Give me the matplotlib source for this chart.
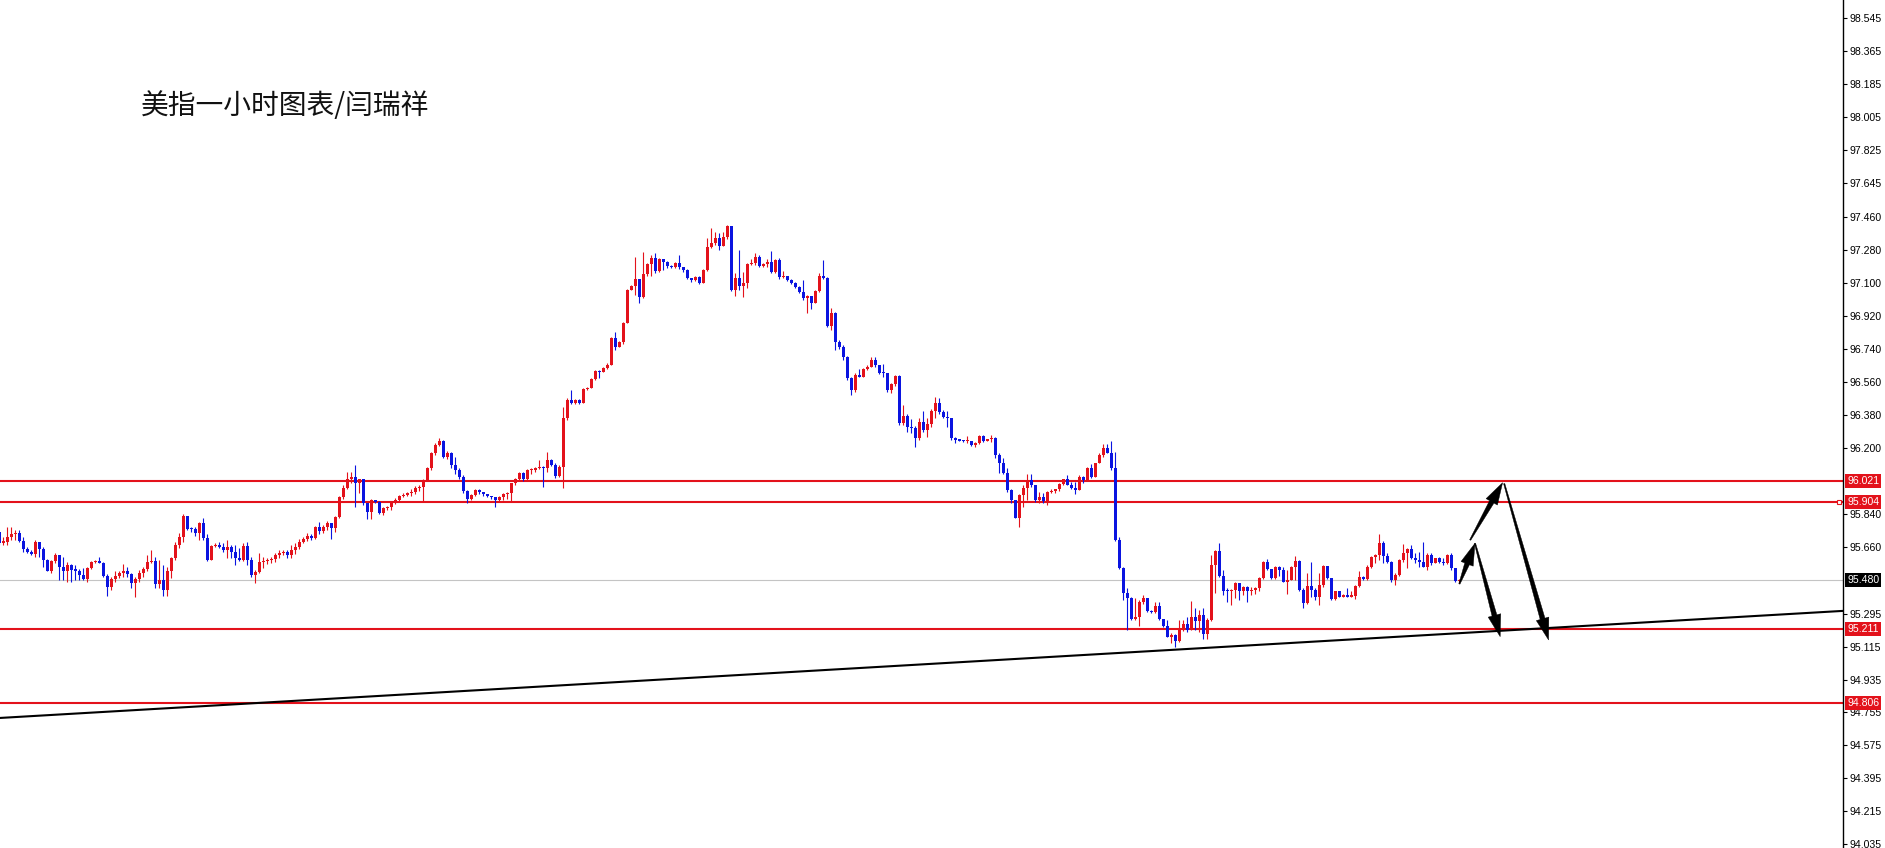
import numpy as np
import matplotlib
matplotlib.use("Agg")
import matplotlib.pyplot as plt
from matplotlib.patches import Polygon

plt.rcParams['font.family'] = ['Noto Sans CJK SC', 'DejaVu Sans']

title = "美指一小时图表/闫瑞祥"

# hourly candles (open = previous close)
first_open = 95.743
close = [
    95.683, 95.685, 95.716, 95.730, 95.734, 95.694, 95.650, 95.634, 95.621, 95.688,
    95.650, 95.588, 95.530, 95.583, 95.616, 95.552, 95.530, 95.561, 95.534, 95.530,
    95.506, 95.484, 95.543, 95.579, 95.583, 95.574, 95.503, 95.443, 95.484, 95.503,
    95.519, 95.530, 95.512, 95.461, 95.483, 95.515, 95.537, 95.575, 95.583, 95.457,
    95.479, 95.424, 95.528, 95.597, 95.667, 95.712, 95.828, 95.757, 95.756, 95.737,
    95.788, 95.706, 95.588, 95.665, 95.670, 95.661, 95.643, 95.657, 95.634, 95.601,
    95.588, 95.665, 95.588, 95.506, 95.524, 95.579, 95.584, 95.588, 95.591, 95.615,
    95.628, 95.633, 95.615, 95.642, 95.657, 95.688, 95.700, 95.720, 95.710, 95.766,
    95.745, 95.770, 95.790, 95.760, 95.824, 95.930, 95.979, 96.030, 96.043, 96.007,
    96.028, 95.897, 95.852, 95.915, 95.906, 95.846, 95.870, 95.875, 95.906, 95.915,
    95.937, 95.943, 95.952, 95.961, 95.979, 95.988, 96.025, 96.088, 96.170, 96.216,
    96.240, 96.152, 96.174, 96.106, 96.079, 96.043, 95.966, 95.919, 95.943, 95.970,
    95.961, 95.948, 95.937, 95.930, 95.915, 95.930, 95.948, 95.952, 96.006, 96.028,
    96.061, 96.028, 96.079, 96.080, 96.088, 96.097, 96.088, 96.134, 96.107, 96.047,
    96.098, 96.361, 96.462, 96.443, 96.462, 96.447, 96.520, 96.525, 96.574, 96.620,
    96.616, 96.635, 96.653, 96.802, 96.753, 96.780, 96.884, 97.062, 97.084, 97.122,
    97.022, 97.148, 97.202, 97.239, 97.166, 97.230, 97.217, 97.195, 97.186, 97.208,
    97.186, 97.171, 97.126, 97.117, 97.135, 97.102, 97.171, 97.295, 97.317, 97.344,
    97.303, 97.350, 97.412, 97.062, 97.126, 97.084, 97.099, 97.204, 97.208, 97.241,
    97.193, 97.204, 97.217, 97.162, 97.226, 97.131, 97.139, 97.117, 97.102, 97.080,
    97.053, 97.017, 97.029, 96.993, 97.055, 97.139, 97.126, 96.866, 96.935, 96.780,
    96.753, 96.698, 96.580, 96.516, 96.598, 96.589, 96.629, 96.644, 96.680, 96.653,
    96.611, 96.607, 96.516, 96.549, 96.593, 96.334, 96.374, 96.316, 96.310, 96.252,
    96.342, 96.298, 96.331, 96.403, 96.443, 96.398, 96.371, 96.362, 96.252, 96.243,
    96.240, 96.236, 96.240, 96.216, 96.225, 96.265, 96.239, 96.247, 96.256, 96.161,
    96.116, 96.061, 95.970, 95.916, 95.816, 95.943, 95.979, 96.025, 95.998, 95.916,
    95.934, 95.910, 95.961, 95.967, 95.974, 96.003, 96.028, 95.998, 95.979, 95.970,
    96.043, 96.025, 96.089, 96.043, 96.116, 96.161, 96.198, 96.174, 96.089, 95.698,
    95.543, 95.406, 95.379, 95.264, 95.275, 95.361, 95.379, 95.312, 95.306, 95.334,
    95.264, 95.228, 95.170, 95.179, 95.143, 95.206, 95.239, 95.206, 95.279, 95.252,
    95.288, 95.184, 95.261, 95.561, 95.639, 95.501, 95.421, 95.418, 95.425, 95.461,
    95.416, 95.443, 95.416, 95.425, 95.434, 95.488, 95.579, 95.537, 95.488, 95.552,
    95.534, 95.470, 95.479, 95.548, 95.585, 95.425, 95.352, 95.446, 95.425, 95.388,
    95.452, 95.556, 95.488, 95.374, 95.416, 95.388, 95.397, 95.388, 95.392, 95.446,
    95.497, 95.483, 95.552, 95.603, 95.616, 95.683, 95.607, 95.579, 95.476, 95.507,
    95.588, 95.624, 95.646, 95.597, 95.588, 95.575, 95.551, 95.615, 95.569, 95.597,
    95.575, 95.569, 95.615, 95.542, 95.473, 95.480,
]
high = [
    95.743, 95.716, 95.767, 95.767, 95.752, 95.752, 95.712, 95.661, 95.643, 95.697,
    95.688, 95.661, 95.592, 95.588, 95.625, 95.616, 95.606, 95.579, 95.565, 95.561,
    95.537, 95.543, 95.548, 95.582, 95.588, 95.603, 95.575, 95.512, 95.497, 95.525,
    95.525, 95.566, 95.552, 95.519, 95.497, 95.534, 95.552, 95.616, 95.643, 95.606,
    95.588, 95.561, 95.552, 95.606, 95.688, 95.734, 95.839, 95.825, 95.770, 95.770,
    95.798, 95.816, 95.730, 95.670, 95.680, 95.688, 95.679, 95.697, 95.670, 95.670,
    95.652, 95.679, 95.688, 95.606, 95.533, 95.624, 95.606, 95.597, 95.606, 95.624,
    95.642, 95.642, 95.642, 95.670, 95.679, 95.700, 95.715, 95.735, 95.730, 95.775,
    95.795, 95.780, 95.800, 95.790, 95.830, 95.937, 95.997, 96.070, 96.070, 96.106,
    96.030, 96.030, 95.900, 95.920, 95.915, 95.910, 95.875, 95.880, 95.910, 95.925,
    95.945, 95.955, 95.960, 95.975, 95.990, 96.000, 96.030, 96.095, 96.180, 96.225,
    96.255, 96.245, 96.185, 96.180, 96.150, 96.090, 96.050, 95.970, 95.950, 95.975,
    95.975, 95.960, 95.950, 95.940, 95.930, 95.935, 95.955, 95.960, 96.010, 96.035,
    96.070, 96.070, 96.085, 96.090, 96.095, 96.134, 96.100, 96.180, 96.140, 96.115,
    96.105, 96.425, 96.470, 96.516, 96.468, 96.465, 96.525, 96.530, 96.580, 96.625,
    96.625, 96.640, 96.665, 96.805, 96.835, 96.785, 96.890, 97.070, 97.090, 97.244,
    97.125, 97.272, 97.210, 97.253, 97.262, 97.235, 97.232, 97.222, 97.199, 97.215,
    97.253, 97.190, 97.175, 97.130, 97.140, 97.140, 97.175, 97.344, 97.399, 97.381,
    97.371, 97.380, 97.417, 97.410, 97.153, 97.280, 97.162, 97.208, 97.230, 97.266,
    97.253, 97.210, 97.230, 97.277, 97.230, 97.235, 97.168, 97.140, 97.122, 97.105,
    97.082, 97.117, 97.035, 97.030, 97.060, 97.153, 97.226, 97.135, 96.962, 96.940,
    96.790, 96.760, 96.700, 96.585, 96.607, 96.629, 96.635, 96.650, 96.698, 96.698,
    96.655, 96.660, 96.610, 96.555, 96.600, 96.598, 96.434, 96.385, 96.356, 96.320,
    96.364, 96.403, 96.362, 96.411, 96.480, 96.471, 96.405, 96.403, 96.365, 96.261,
    96.250, 96.245, 96.265, 96.240, 96.230, 96.270, 96.269, 96.250, 96.270, 96.258,
    96.174, 96.143, 96.088, 95.975, 95.898, 95.948, 95.997, 96.058, 96.058, 96.000,
    95.961, 95.955, 95.965, 95.975, 95.978, 96.008, 96.032, 96.050, 96.016, 96.016,
    96.052, 96.047, 96.098, 96.112, 96.120, 96.170, 96.221, 96.221, 96.235, 96.180,
    95.716, 95.552, 95.434, 95.385, 95.379, 95.370, 95.397, 95.381, 95.315, 95.361,
    95.361, 95.268, 95.261, 95.188, 95.182, 95.261, 95.261, 95.279, 95.365, 95.325,
    95.315, 95.325, 95.270, 95.616, 95.643, 95.683, 95.534, 95.434, 95.430, 95.465,
    95.457, 95.445, 95.446, 95.440, 95.438, 95.497, 95.585, 95.592, 95.540, 95.556,
    95.556, 95.552, 95.534, 95.556, 95.607, 95.590, 95.434, 95.516, 95.579, 95.434,
    95.519, 95.561, 95.556, 95.490, 95.420, 95.421, 95.400, 95.434, 95.416, 95.450,
    95.525, 95.501, 95.561, 95.607, 95.621, 95.730, 95.689, 95.625, 95.585, 95.516,
    95.595, 95.675, 95.651, 95.670, 95.624, 95.633, 95.688, 95.624, 95.624, 95.600,
    95.602, 95.597, 95.618, 95.624, 95.545, 95.485,
]
low = [
    95.670, 95.670, 95.670, 95.697, 95.697, 95.688, 95.634, 95.628, 95.616, 95.606,
    95.606, 95.548, 95.525, 95.515, 95.574, 95.479, 95.479, 95.466, 95.466, 95.479,
    95.479, 95.479, 95.466, 95.537, 95.570, 95.570, 95.497, 95.393, 95.424, 95.470,
    95.488, 95.497, 95.497, 95.434, 95.388, 95.470, 95.497, 95.525, 95.570, 95.434,
    95.434, 95.393, 95.393, 95.488, 95.588, 95.652, 95.688, 95.752, 95.743, 95.719,
    95.697, 95.697, 95.585, 95.588, 95.657, 95.652, 95.634, 95.597, 95.597, 95.561,
    95.585, 95.585, 95.561, 95.493, 95.464, 95.515, 95.542, 95.566, 95.573, 95.579,
    95.597, 95.615, 95.597, 95.597, 95.621, 95.650, 95.680, 95.690, 95.695, 95.700,
    95.730, 95.735, 95.750, 95.700, 95.740, 95.815, 95.920, 95.975, 96.010, 95.879,
    95.952, 95.890, 95.810, 95.810, 95.900, 95.840, 95.835, 95.860, 95.860, 95.895,
    95.905, 95.930, 95.935, 95.940, 95.950, 95.965, 95.906, 96.020, 96.080, 96.160,
    96.210, 96.145, 96.140, 96.090, 96.060, 96.030, 95.955, 95.900, 95.915, 95.935,
    95.950, 95.935, 95.930, 95.920, 95.879, 95.910, 95.915, 95.920, 95.906, 95.995,
    96.020, 96.020, 96.025, 96.060, 96.070, 96.085, 95.988, 96.070, 96.100, 96.035,
    96.040, 95.979, 96.355, 96.440, 96.440, 96.440, 96.445, 96.515, 96.535, 96.570,
    96.580, 96.616, 96.630, 96.650, 96.735, 96.750, 96.770, 96.880, 97.060, 97.035,
    96.993, 97.017, 97.140, 97.139, 97.153, 97.160, 97.171, 97.180, 97.180, 97.180,
    97.175, 97.160, 97.120, 97.105, 97.110, 97.095, 97.099, 97.165, 97.290, 97.308,
    97.280, 97.300, 97.340, 97.055, 97.029, 97.062, 97.026, 97.071, 97.200, 97.200,
    97.190, 97.186, 97.190, 97.155, 97.157, 97.125, 97.128, 97.112, 97.095, 97.075,
    97.045, 97.010, 96.938, 96.957, 96.990, 97.050, 97.120, 96.860, 96.844, 96.735,
    96.740, 96.680, 96.571, 96.489, 96.507, 96.585, 96.585, 96.625, 96.640, 96.644,
    96.605, 96.589, 96.507, 96.502, 96.540, 96.325, 96.325, 96.289, 96.283, 96.207,
    96.243, 96.289, 96.258, 96.316, 96.362, 96.385, 96.362, 96.316, 96.245, 96.225,
    96.235, 96.230, 96.225, 96.210, 96.207, 96.219, 96.234, 96.238, 96.234, 96.143,
    96.061, 96.058, 95.961, 95.901, 95.816, 95.766, 95.879, 95.916, 95.988, 95.907,
    95.901, 95.898, 95.888, 95.955, 95.952, 95.967, 95.998, 95.995, 95.975, 95.948,
    95.970, 96.007, 96.025, 96.034, 96.043, 96.116, 96.153, 96.170, 96.080, 95.690,
    95.540, 95.370, 95.206, 95.261, 95.261, 95.228, 95.348, 95.306, 95.300, 95.297,
    95.261, 95.224, 95.166, 95.133, 95.112, 95.140, 95.200, 95.197, 95.206, 95.206,
    95.197, 95.155, 95.155, 95.252, 95.406, 95.497, 95.397, 95.361, 95.343, 95.379,
    95.370, 95.397, 95.361, 95.397, 95.403, 95.421, 95.483, 95.534, 95.483, 95.483,
    95.501, 95.470, 95.403, 95.479, 95.479, 95.421, 95.325, 95.348, 95.388, 95.370,
    95.343, 95.443, 95.483, 95.370, 95.370, 95.385, 95.385, 95.385, 95.385, 95.374,
    95.440, 95.476, 95.480, 95.543, 95.570, 95.588, 95.570, 95.570, 95.465, 95.452,
    95.500, 95.579, 95.542, 95.595, 95.569, 95.548, 95.550, 95.533, 95.560, 95.570,
    95.570, 95.560, 95.565, 95.533, 95.470, 95.460,
]

tick_prices = [98.545, 98.365, 98.185, 98.005, 97.825, 97.645, 97.460, 97.280,
               97.100, 96.920, 96.740, 96.560, 96.380, 96.200, 95.840, 95.660,
               95.295, 95.115, 94.935, 94.755, 94.575, 94.395, 94.215, 94.035]
tick_labels = ["98.545", "98.365", "98.185", "98.005", "97.825", "97.645", "97.460", "97.280",
               "97.100", "96.920", "96.740", "96.560", "96.380", "96.200", "95.840", "95.660",
               "95.295", "95.115", "94.935", "94.755", "94.575", "94.395", "94.215", "94.035"]

levels = [96.021, 95.904, 95.211, 94.806]
level_labels = ["96.021", "95.904", "95.211", "94.806"]
last_price = 95.480
last_label = "95.480"

trend_x = [0, 461]
trend_y = [94.725, 95.310]

# forecast arrows: (candle index, price) of tail and tip
arrow_from = [(365.0, 95.457), (368.9, 95.679), (367.7, 95.697), (376.2, 96.005)]
arrow_to = [(368.9, 95.679), (375.2, 95.169), (375.8, 96.010), (387.3, 95.151)]

red = '#e3121b'
blue = '#0a14e0'

fig = plt.figure(figsize=(18.85, 8.48), dpi=100)
ax = fig.add_axes([0, 0, 1843 / 1885, 1])
ax.set_xlim(0.17, 460.9)
ax.set_ylim(94.015, 98.646)

x = np.arange(len(close))
c = np.array(close)
o = np.array([first_open] + close[:-1])
hi = np.maximum(np.array(high), np.maximum(o, c))
lo = np.minimum(np.array(low), np.minimum(o, c))
cols = np.where(c >= o, red, blue)

ax.axhline(last_price, color='#c4c4c4', lw=0.8, zorder=1)
ax.vlines(x, lo, hi, colors=cols, lw=0.8, zorder=3)
ax.bar(x, np.maximum(np.abs(c - o), 0.006), width=0.8, bottom=np.minimum(o, c),
       color=cols, linewidth=0, zorder=3)

for lv in levels:
    ax.axhline(lv, color=red, lw=1.5, zorder=2)
ax.plot([0.998], [levels[1]], transform=ax.get_yaxis_transform(), marker='s', ms=3,
        mfc='white', mec=red, mew=0.8, clip_on=False, zorder=4)

ax.plot(trend_x, trend_y, color='black', lw=1.5, zorder=4)


def draw_arrow(p0, p1, head_len=22, head_w=13, shaft_w=5.0, tail_w=1.2):
    a = ax.transData.transform(p0)
    b = ax.transData.transform(p1)
    d = b - a
    u = d / np.hypot(*d)
    n = np.array([-u[1], u[0]])
    hb = b - u * head_len
    pts = [a + n * tail_w / 2, hb + n * shaft_w / 2, hb + n * head_w / 2, b,
           hb - n * head_w / 2, hb - n * shaft_w / 2, a - n * tail_w / 2]
    pts = ax.transData.inverted().transform(np.array(pts))
    ax.add_patch(Polygon(pts, closed=True, facecolor='black', edgecolor='black',
                         lw=0.3, zorder=5))


for p0, p1 in zip(arrow_from, arrow_to):
    draw_arrow(p0, p1)

# right price scale
for s in ['left', 'top', 'bottom']:
    ax.spines[s].set_visible(False)
ax.spines['right'].set_linewidth(1.0)
ax.set_xticks([])
ax.yaxis.tick_right()
ax.set_yticks(tick_prices)
ax.set_yticklabels(tick_labels)
ax.tick_params(axis='y', direction='out', length=3, width=0.8, pad=2, labelsize=7.6)
for t in ax.get_yticklabels():
    t.set_fontfamily('Liberation Sans')

ytr = ax.get_yaxis_transform()
for lv, lb in zip(levels, level_labels):
    ax.text(1.0022, lv, lb, transform=ytr, ha='left', va='center', color='white',
            fontsize=7.6, family='Liberation Sans', clip_on=False, zorder=6,
            bbox=dict(boxstyle='square,pad=0.2', fc=red, ec='none'))
ax.text(1.0022, last_price, last_label, transform=ytr, ha='left', va='center', color='white',
        fontsize=7.6, family='Liberation Sans', clip_on=False, zorder=6,
        bbox=dict(boxstyle='square,pad=0.2', fc='black', ec='none'))

fig.text(141 / 1885, 1 - 106 / 848, title, fontsize=20, ha='left', va='center', color='#111111')

fig.savefig('out.png', dpi=100, facecolor='white')
